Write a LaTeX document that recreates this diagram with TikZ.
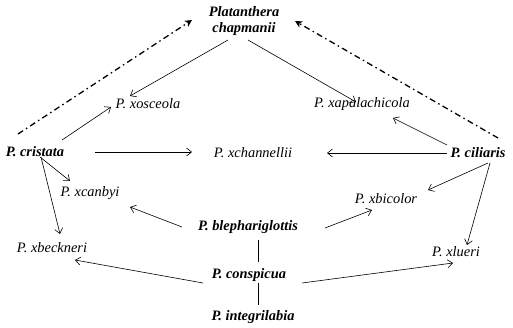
\documentclass[tikz,border=0pt]{standalone}
\usepackage{fontspec}
\setmainfont{Liberation Serif}
\usetikzlibrary{arrows.meta}
\begin{document}
\begin{tikzpicture}[x=1pt,y=-1pt,
  every node/.style={inner sep=0pt, font=\fontsize{14.4}{15.5}\selectfont},
  sp/.style={font=\fontsize{14.4}{15.5}\selectfont\bfseries\itshape},
  hy/.style={font=\fontsize{14.4}{15.5}\selectfont\itshape},
  arr/.style={line width=0.6pt, -{Straight Barb[length=5pt,width=8pt]}},
  lnk/.style={line width=0.6pt},
  dd/.style={line width=1.3pt, dash pattern=on 6pt off 3.5pt on 1.5pt off 3.5pt,
     -{Stealth[length=7pt,width=7pt,inset=2pt]}}]
\useasboundingbox (0,0) rectangle (513,328);
\node[sp, align=center] (chap) at (244,21) {Platanthera\\chapmanii};
\node[hy] (xos) at (148,104) {P. xosceola};
\node[hy] (xapa) at (362,104) {P. xapalachicola};
\node[sp] (cris) at (35,152) {P. cristata};
\node[hy] (xchan) at (253,153) {P. xchannellii};
\node[sp] (cil) at (478,153) {P. ciliaris};
\node[hy] (xcan) at (90,193) {P. xcanbyi};
\node[hy] (xbic) at (386,199) {P. xbicolor};
\node[sp] (bleph) at (248,227) {P. blephariglottis};
\node[hy] (xbeck) at (52,248) {P. xbeckneri};
\node[hy] (xlue) at (456,252) {P. xlueri};
\node[sp] (consp) at (249,275) {P. conspicua};
\node[sp] (integ) at (253,317) {P. integrilabia};

\draw[arr] ([shift={(-16,19)}]chap.center) -- ([shift={(-18,-8)}]xos.center);
\draw[arr] ([shift={(4,19)}]chap.center) -- ([shift={(-6,-2)}]xapa.center);
\draw[arr] ([shift={(27,-12)}]cris.center) -- ([shift={(-37,3)}]xos.center);
\draw[arr] ([shift={(60,0)}]cris.center) -- ([shift={(-61,-1)}]xchan.center);
\draw[arr] ([shift={(-31,0)}]cil.center) -- ([shift={(74,0)}]xchan.center);
\draw[arr] ([shift={(-31,-8)}]cil.center) -- ([shift={(31,14)}]xapa.center);
\draw[arr] ([shift={(5,5)}]cris.center) -- ([shift={(-20,-12)}]xcan.center);
\draw[arr] ([shift={(6,5)}]cris.center) -- ([shift={(8,-14)}]xbeck.center);
\draw[arr] ([shift={(10,10)}]cil.center) -- ([shift={(42,-9)}]xbic.center);
\draw[arr] ([shift={(12,10)}]cil.center) -- ([shift={(11,-7)}]xlue.center);
\draw[arr] ([shift={(-66,0)}]bleph.center) -- ([shift={(40,14)}]xcan.center);
\draw[arr] ([shift={(77,1)}]bleph.center) -- ([shift={(-14,11)}]xbic.center);
\draw[lnk] ([shift={(10,13)}]bleph.center) -- ([shift={(9,-13)}]consp.center);
\draw[lnk] ([shift={(9,8)}]consp.center) -- ([shift={(5,-12)}]integ.center);
\draw[arr] ([shift={(-46,8)}]consp.center) -- ([shift={(23,12)}]xbeck.center);
\draw[arr] ([shift={(53,8)}]consp.center) -- ([shift={(-3,11)}]xlue.center);
\draw[dd] ([shift={(-17,-18)}]cris.center) -- ([shift={(-52,-1)}]chap.center);
\draw[dd] ([shift={(20,-15)}]cil.center) -- ([shift={(51,0)}]chap.center);
\end{tikzpicture}
\end{document}
